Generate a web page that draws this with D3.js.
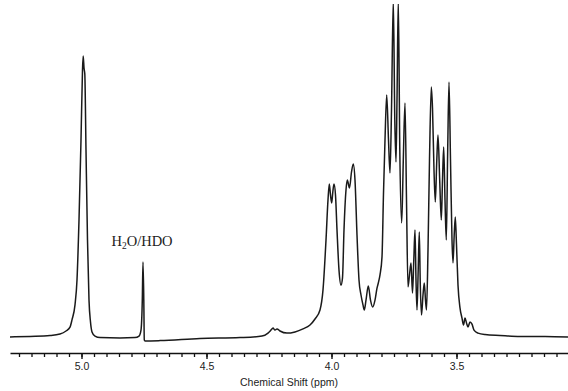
<!DOCTYPE html>
<html>
<head>
<meta charset="utf-8">
<script src="https://cdn.jsdelivr.net/npm/d3@7"></script>
<style>
  html, body { margin: 0; padding: 0; background: #fff; }
  svg { display: block; }
</style>
</head>
<body>
<svg id="chart" width="568" height="391"></svg>
<script>
// Chemical shift (ppm) of the sampled spectrum points
const shiftPpm = [
  5.286, 5.206, 5.126, 5.086, 5.062, 5.046, 5.038, 5.026, 5.018, 5.010,
  5.002, 4.996, 4.9932, 4.990, 4.9868, 4.982, 4.976, 4.970, 4.964, 4.958,
  4.946, 4.926, 4.846, 4.786, 4.770, 4.762, 4.7568, 4.754, 4.7508, 4.7488,
  4.746, 4.686, 4.526, 4.366, 4.278, 4.254, 4.242, 4.234, 4.226, 4.218,
  4.206, 4.178, 4.146, 4.114, 4.086, 4.066, 4.046, 4.034, 4.022, 4.014,
  4.0088, 4.004, 3.9992, 3.9948, 3.990, 3.984, 3.978, 3.970, 3.962, 3.956,
  3.950, 3.942, 3.9368, 3.928, 3.920, 3.9128, 3.906, 3.898, 3.890, 3.882,
  3.874, 3.8688, 3.862, 3.8528, 3.844, 3.8352, 3.826, 3.818, 3.8128, 3.806,
  3.798, 3.792, 3.786, 3.7792, 3.772, 3.766, 3.760, 3.7528, 3.7468, 3.742,
  3.738, 3.7328, 3.7268, 3.7192, 3.7128, 3.706, 3.700, 3.694, 3.688, 3.682,
  3.676, 3.6708, 3.666, 3.662, 3.658, 3.6532, 3.6488, 3.6448, 3.640, 3.634,
  3.6288, 3.624, 3.620, 3.614, 3.608, 3.6008, 3.596, 3.590, 3.5848, 3.5788,
  3.574, 3.5672, 3.5608, 3.556, 3.5512, 3.546, 3.5408, 3.5352, 3.530, 3.524,
  3.518, 3.514, 3.5092, 3.5048, 3.500, 3.494, 3.486, 3.478, 3.472, 3.466,
  3.460, 3.454, 3.446, 3.438, 3.430, 3.414, 3.386, 3.326, 3.246, 3.146,
  3.054
];
// Relative intensity at each point (arbitrary units)
const intensity = [
  1.0, 1.2, 1.5, 2.0, 3.0, 4.3, 6.7, 11.7, 20.0, 40.0,
  66.7, 90.0, 94.7, 90.7, 88.7, 63.3, 33.3, 13.3, 6.0, 2.7,
  1.3, 0.8, 0.7, 0.8, 1.3, 3.3, 13.3, 26.0, 13.3, 0.0,
  -0.3, -0.2, 0.5, 0.8, 1.3, 2.3, 3.3, 4.0, 3.3, 3.7,
  3.0, 2.3, 2.7, 3.7, 5.0, 7.0, 10.0, 16.7, 33.3, 46.7,
  52.0, 48.3, 45.7, 49.3, 52.0, 48.3, 36.7, 23.3, 18.3, 20.7,
  36.7, 50.0, 53.3, 50.7, 56.0, 58.7, 53.3, 35.0, 20.0, 15.0,
  11.7, 10.0, 13.3, 18.0, 13.3, 11.0, 13.3, 17.3, 19.0, 21.7,
  27.7, 49.0, 66.7, 81.7, 66.7, 55.7, 76.7, 113.3, 73.3, 59.3,
  80.0, 113.3, 63.3, 39.0, 60.0, 79.0, 46.7, 17.7, 21.7, 25.7,
  15.7, 26.7, 36.7, 20.0, 10.0, 23.3, 36.0, 18.3, 8.3, 15.0,
  19.0, 13.3, 10.0, 30.0, 60.0, 84.3, 77.3, 56.7, 46.0, 60.0,
  68.3, 53.3, 40.0, 53.3, 64.3, 46.7, 33.3, 63.3, 86.0, 60.0,
  33.3, 25.7, 35.0, 41.0, 31.7, 18.3, 10.7, 7.3, 5.0, 7.3,
  5.7, 4.3, 6.0, 5.3, 3.3, 2.3, 1.8, 1.5, 1.2, 1.2,
  1.0
];
const majorTicks = [5.0, 4.5, 4.0, 3.5];
const minorTicks = d3.range(0, 45).map(i => +(5.25 - i * 0.05).toFixed(2));
const axisTitle = "Chemical Shift (ppm)";
const peakLabel = { main: "H", sub: "2", rest: "O/HDO", ppm: 4.754 };

const svg = d3.select("#chart");
const W = 568, H = 391;

const x = d3.scaleLinear().domain([5.286, 3.054]).range([10, 568]);
const y = d3.scaleLinear().domain([0, 100]).range([340, 40]);

svg.append("defs").append("clipPath").attr("id", "plotclip")
  .append("rect").attr("x", 0).attr("y", 4).attr("width", W).attr("height", H - 4);

const pts = shiftPpm.map((p, i) => [p, intensity[i]]);
const line = d3.line()
  .x(d => x(d[0]))
  .y(d => y(d[1]))
  .curve(d3.curveMonotoneX);

svg.append("path")
  .attr("clip-path", "url(#plotclip)")
  .attr("d", line(pts.slice().reverse()))
  .attr("fill", "none")
  .attr("stroke", "#1a1a1a")
  .attr("stroke-width", 1.5)
  .attr("stroke-linejoin", "round");

// Axis
const axisY = 353;
const minorAxis = d3.axisBottom(x).tickValues(minorTicks).tickSize(4).tickSizeOuter(0).tickFormat("");
const gMinor = svg.append("g").attr("transform", `translate(0,${axisY})`).call(minorAxis);
gMinor.select(".domain").attr("stroke", "#111").attr("stroke-width", 1.6);
gMinor.selectAll(".tick line").attr("stroke", "#111").attr("stroke-width", 1.3);

const majorAxis = d3.axisBottom(x).tickValues(majorTicks).tickSize(6).tickSizeOuter(0)
  .tickFormat(d3.format(".1f")).tickPadding(4);
const gMajor = svg.append("g").attr("transform", `translate(0,${axisY})`).call(majorAxis);
gMajor.select(".domain").remove();
gMajor.selectAll(".tick line").attr("stroke", "#111").attr("stroke-width", 1.4);
gMajor.selectAll(".tick text")
  .attr("font-family", "'Liberation Sans Narrow', 'Arial Narrow', 'Liberation Sans', sans-serif")
  .attr("font-size", 10.5)
  .attr("fill", "#222");

svg.append("text")
  .attr("x", 289).attr("y", 386)
  .attr("text-anchor", "middle")
  .attr("font-family", "'Liberation Sans Narrow', 'Arial Narrow', 'Liberation Sans', sans-serif")
  .attr("font-size", 10.5)
  .attr("fill", "#222")
  .text(axisTitle);

// Peak annotation
const lbl = svg.append("text")
  .attr("x", x(peakLabel.ppm) - 1)
  .attr("y", 246)
  .attr("text-anchor", "middle")
  .attr("font-family", "'Liberation Serif', 'Times New Roman', serif")
  .attr("font-size", 14.5)
  .attr("fill", "#222");
lbl.append("tspan").text(peakLabel.main);
lbl.append("tspan").attr("font-size", 9.5).attr("dy", 3).text(peakLabel.sub);
lbl.append("tspan").attr("dy", -3).text(peakLabel.rest);
</script>
</body>
</html>
